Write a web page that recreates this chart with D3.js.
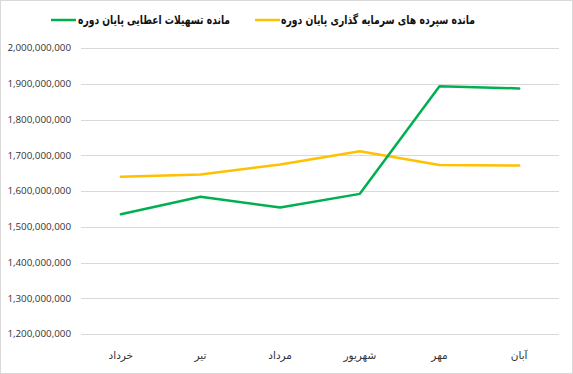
<!DOCTYPE html>
<html>
<head>
<meta charset="utf-8">
<script src="https://cdn.jsdelivr.net/npm/d3@7"></script>
<style>
  body { margin: 0; background: #fff; }
  svg { display: block; }
  .ytick { font-family: "Open Sans", "DejaVu Sans", sans-serif; font-size: 9.8px; fill: #333; }
  .xtick { font-family: "DejaVu Sans", sans-serif; font-size: 10.5px; fill: #333; }
  .legend { font-family: "DejaVu Sans", sans-serif; font-size: 12px; font-weight: bold; fill: #111; }
</style>
</head>
<body>
<div id="chart"></div>
<script>
const months = ["خرداد", "تیر", "مرداد", "شهریور", "مهر", "آبان"];
const loans = [1535e6, 1584e6, 1554e6, 1592e6, 1893e6, 1887e6];
const deposits = [1640e6, 1646e6, 1674e6, 1711e6, 1673e6, 1671e6];
const yTicks = [1.2e9, 1.3e9, 1.4e9, 1.5e9, 1.6e9, 1.7e9, 1.8e9, 1.9e9, 2.0e9];

const series = [
  { name: "مانده تسهیلات اعطایی پایان دوره", values: loans, color: "#00b050" },
  { name: "مانده سپرده های سرمایه گذاری پایان دوره", values: deposits, color: "#ffc000" }
];

const width = 573, height = 374;
const svg = d3.select("#chart").append("svg").attr("width", width).attr("height", height);

svg.append("rect").attr("x", 0.5).attr("y", 0.5).attr("width", width - 1).attr("height", height - 1)
  .attr("fill", "#fff").attr("stroke", "#d9d9d9");

const x = d3.scaleBand().domain(months).range([81, 559]);
const y = d3.scaleLinear().domain([1.2e9, 2.0e9]).range([334, 48]);
const fmt = d3.format(",");

// gridlines
svg.append("g").selectAll("line").data(yTicks).enter().append("line")
  .attr("x1", 81).attr("x2", 559)
  .attr("y1", d => Math.round(y(d)) + 0.5).attr("y2", d => Math.round(y(d)) + 0.5)
  .attr("stroke", "#d9d9d9").attr("stroke-width", 1);

svg.append("g").selectAll("text").data(yTicks).enter().append("text")
  .attr("class", "ytick").attr("x", 71).attr("y", d => y(d)).attr("dy", "0.35em")
  .attr("text-anchor", "end").text(d => fmt(d));

svg.append("g").selectAll("text").data(months).enter().append("text")
  .attr("class", "xtick").attr("x", d => x(d) + x.bandwidth() / 2).attr("y", 359)
  .attr("text-anchor", "middle").text(d => d);

const line = d3.line()
  .x((d, i) => x(months[i]) + x.bandwidth() / 2)
  .y(d => y(d));

// deposits drawn first, loans on top
[series[1], series[0]].forEach(s => {
  svg.append("path").datum(s.values).attr("d", line)
    .attr("fill", "none").attr("stroke", s.color).attr("stroke-width", 2.5)
    .attr("stroke-linejoin", "round").attr("stroke-linecap", "round");
});

// legend (symbol on the left, text centred in its slot)
const legendItems = [
  { s: series[0], lx: 51, t0: 78, t1: 230 },
  { s: series[1], lx: 255, t0: 281, t1: 475 }
];
legendItems.forEach(it => {
  svg.append("line").attr("x1", it.lx).attr("x2", it.lx + 25).attr("y1", 20).attr("y2", 20)
    .attr("stroke", it.s.color).attr("stroke-width", 2.5);
  svg.append("text").attr("class", "legend").attr("x", (it.t0 + it.t1) / 2).attr("y", 20).attr("dy", "0.35em")
    .attr("text-anchor", "middle")
    .attr("textLength", it.t1 - it.t0).attr("lengthAdjust", "spacingAndGlyphs")
    .text(it.s.name);
});
</script>
</body>
</html>
